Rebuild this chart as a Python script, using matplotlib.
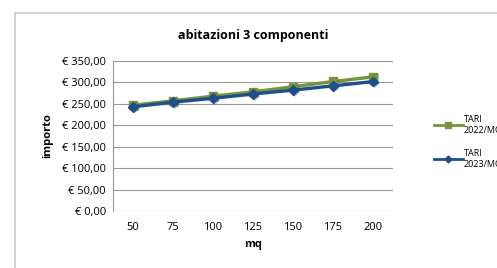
import matplotlib.pyplot as plt
import matplotlib.patheffects as pe
from matplotlib.lines import Line2D
from matplotlib.patches import Rectangle
from matplotlib.ticker import FuncFormatter

mq = ["50", "75", "100", "125", "150", "175", "200"]
tari_2022 = [247, 257, 268, 278, 290, 302, 313]
tari_2023 = [243, 254, 263, 273, 282, 292, 302]
series_labels = ["TARI\n2022/MQ", "TARI\n2023/MQ"]
colors = ["#77933c", "#1f4e8c"]

plt.rcParams["font.family"] = ["Open Sans", "DejaVu Sans"]

fig = plt.figure(figsize=(4.97, 2.68), dpi=100)
fig.patches.append(Rectangle((15 / 497, -0.05), 1.0, 1 - 13 / 268 + 0.05,
                             transform=fig.transFigure, fill=False,
                             edgecolor="#c8c8c8", linewidth=1.2))

ax = fig.add_axes([113 / 497, 1 - 211 / 268, 280 / 497, 150 / 268])
x = list(range(len(mq)))
shadow = [pe.SimplePatchShadow(offset=(1.2, -1.2), alpha=0.25), pe.Normal()]
ax.plot(x, tari_2022, color=colors[0], linewidth=2.4, marker="s",
        markersize=6, path_effects=shadow)
ax.plot(x, tari_2023, color=colors[1], linewidth=2.4, marker="D",
        markersize=5, path_effects=shadow)

ax.set_xlim(-0.5, len(mq) - 0.5)
ax.set_ylim(0, 350)
ax.set_yticks(range(0, 351, 50))
ax.yaxis.set_major_formatter(FuncFormatter(lambda v, p: "€ %d,00" % v))
ax.set_xticks(x)
ax.set_xticklabels(mq)
ax.grid(axis="y", color="#999999", linewidth=0.8)
ax.set_axisbelow(True)
for s in ["top", "right", "bottom"]:
    ax.spines[s].set_visible(False)
ax.spines["left"].set_color("#999999")
ax.tick_params(axis="both", length=0, labelsize=8, colors="#000000")
ax.tick_params(axis="x", pad=8)
ax.tick_params(axis="y", pad=5)

ax.set_title("abitazioni 3 componenti", fontsize=9, fontweight="bold", pad=16)
ax.set_xlabel("mq", fontsize=8, fontweight="bold", labelpad=4)
ax.set_ylabel("importo", fontsize=8, fontweight="bold", labelpad=6)

handles = [
    Line2D([], [], color=colors[0], linewidth=2, marker="s", markersize=5),
    Line2D([], [], color=colors[1], linewidth=2, marker="D", markersize=3.5),
]
fig.legend(handles, series_labels, loc="upper left",
           bbox_to_anchor=(430 / 497, 1 - 111 / 268),
           frameon=False, fontsize=6.5, handlelength=3.2, handletextpad=0.1,
           labelspacing=1.7, borderaxespad=0)

fig.savefig("out.png", dpi=100)
